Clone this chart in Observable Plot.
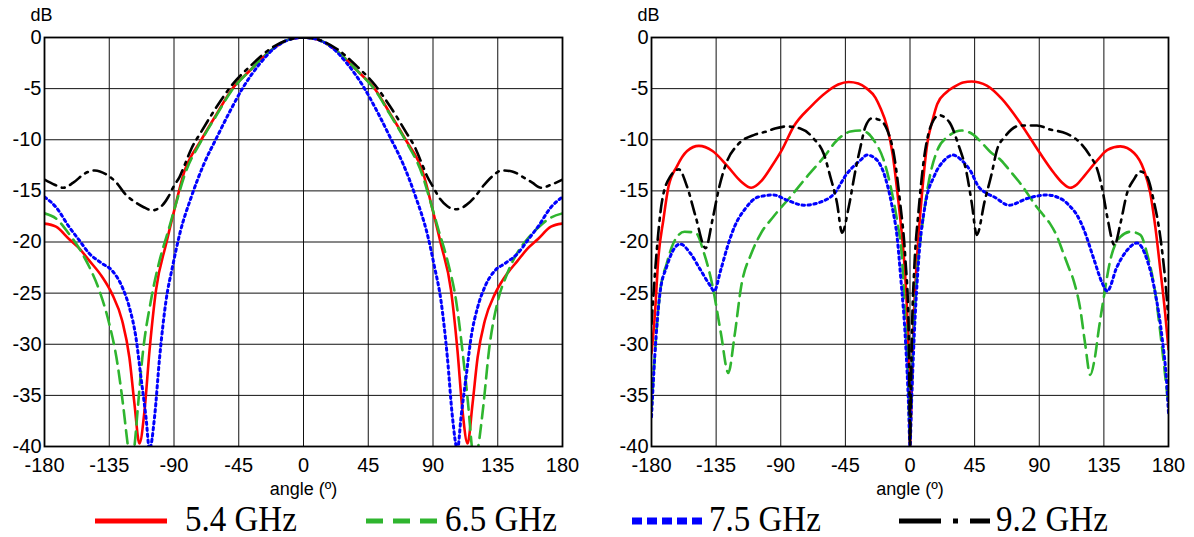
<!DOCTYPE html>
<html><head><meta charset="utf-8">
<script src="https://cdn.jsdelivr.net/npm/d3@7"></script>
<script src="https://cdn.jsdelivr.net/npm/@observablehq/plot@0.6"></script>
<style>
body{margin:0;background:#fff;width:1194px;height:537px;overflow:hidden;font-family:"Liberation Sans",Arial,sans-serif}
#charts{display:flex;height:500px}
#legend{position:relative;height:37px;font-family:"Liberation Serif","Times New Roman",serif;font-size:33px;color:#000}
#legend .sw{position:absolute;top:13px}
#legend .lb{position:absolute;top:1px;line-height:37px;white-space:nowrap;transform:scaleY(1.08)}
</style></head>
<body><div id="charts"></div><div id="legend"></div>
<script>
// ---- data ----
const seriesNames = ["5.4 GHz", "6.5 GHz", "7.5 GHz", "9.2 GHz"];
const seriesColors = ["#ff0000", "#2fb52f", "#0000ff", "#000000"];
const xTicks = [-180, -135, -90, -45, 0, 45, 90, 135, 180];
const yTicks = [0, -5, -10, -15, -20, -25, -30, -35, -40];

// left panel [angle, dB]
const left54 = [[-180,-18.2],[-172,-18.5],[-163,-19.7],[-156,-20.6],[-149,-21.8],[-140,-23.4],[-133,-25.1],[-126,-27.7],[-121,-31.3],[-117.5,-35.8],[-114,-39.7],[-110.5,-36.5],[-107,-30.6],[-102.5,-24.7],[-95.5,-20.2],[-90,-17.0],[-83,-13.2],[-71,-10.0],[-60,-7.4],[-50,-5.1],[-37,-3.2],[-23,-1.3],[-10,-0.2],[0,0],[10,-0.2],[23,-1.3],[37,-3.2],[50,-5.1],[60,-7.4],[71,-10.0],[83,-13.2],[90,-17.0],[95.5,-20.2],[102.5,-24.7],[107,-30.6],[110.5,-36.5],[114,-39.7],[117.5,-35.8],[121,-31.3],[126,-27.7],[133,-25.1],[140,-23.4],[149,-21.8],[156,-20.6],[163,-19.7],[172,-18.5],[180,-18.2]];
const left65 = [[-180,-17.2],[-172,-17.7],[-163,-19.2],[-156,-20.6],[-149,-22.4],[-142,-24.7],[-135,-28.0],[-130,-31.3],[-125.5,-35.8],[-122,-40],[-120,-42],[-117.5,-40],[-115,-36],[-112,-31.3],[-106,-25.7],[-100,-21.8],[-94,-18.9],[-88.5,-16.2],[-82.5,-13.4],[-71,-10.1],[-60,-7.5],[-50,-5.2],[-37,-3.2],[-23,-1.3],[-10,-0.2],[0,0],[10,-0.2],[23,-1.3],[37,-3.2],[50,-5.2],[60,-7.5],[71,-10.1],[82.5,-13.4],[88.5,-16.2],[94,-18.9],[100,-21.8],[106,-25.7],[111,-31.3],[114.5,-36],[117,-40],[119,-42],[121.5,-40],[125,-36],[129,-30.5],[135,-25.8],[141,-23.3],[148,-21.2],[155,-19.8],[163,-18.6],[172,-17.6],[180,-17.2]];
const left75 = [[-180,-15.6],[-172,-16.6],[-163,-18.5],[-156,-19.8],[-149,-21.1],[-140,-22.1],[-133,-22.8],[-126,-24.4],[-121,-26.4],[-116.5,-29.3],[-113,-33.2],[-109.5,-37.1],[-107,-40.3],[-103.5,-37.1],[-100,-31.3],[-95.5,-25.7],[-91,-22.4],[-86,-19.2],[-78,-15.6],[-69,-12.3],[-60,-9.7],[-50.7,-7.1],[-41.6,-4.8],[-30,-2.5],[-19,-0.9],[-7,-0.1],[0,0],[7,-0.1],[19,-0.9],[30,-2.5],[41.6,-4.8],[50.7,-7.1],[60,-9.7],[69,-12.3],[78,-15.6],[86,-19.2],[91,-22.4],[95.5,-25.7],[100,-31.3],[103.5,-37.1],[107,-40.3],[109.5,-37.1],[113,-33.2],[116.5,-29.3],[121,-26.4],[126,-24.4],[133,-22.8],[140,-22.1],[149,-21.1],[156,-19.8],[163,-18.5],[172,-16.6],[180,-15.6]];
const left92 = [[-180,-13.9],[-173,-14.4],[-167,-14.7],[-160,-14.2],[-152,-13.3],[-145,-13.0],[-137,-13.4],[-130,-14.2],[-124,-15.3],[-117,-16.1],[-111,-16.6],[-105,-16.9],[-98,-16.4],[-94,-15.6],[-90,-14.5],[-86,-13.6],[-83,-12.6],[-78,-10.9],[-71,-9.2],[-60,-6.7],[-50,-4.7],[-37,-2.8],[-23,-1.1],[-10,-0.2],[0,0],[10,-0.2],[23,-1.1],[37,-2.8],[50,-4.7],[60,-6.7],[71,-9.2],[78,-10.9],[83,-12.6],[86,-13.6],[90,-14.6],[95,-15.8],[100,-16.5],[106,-16.8],[113,-16.4],[119,-15.6],[125,-14.5],[131,-13.6],[138,-13.0],[145,-13.1],[152,-13.6],[159,-14.2],[165,-14.7],[172,-14.4],[180,-13.9]];

// right panel [angle, dB]
const right54 = [[-180,-30.9],[-177.6,-27.0],[-175.3,-21.7],[-171.7,-17.8],[-168.2,-14.6],[-162.3,-12.6],[-155.2,-11.1],[-147,-10.6],[-137.5,-11.1],[-127,-12.6],[-117.5,-14.1],[-110.5,-14.7],[-103.3,-14.0],[-96.3,-12.6],[-89.2,-11.0],[-81,-8.7],[-69.4,-6.8],[-57.8,-5.3],[-50,-4.6],[-42.7,-4.35],[-36,-4.5],[-30,-5.0],[-24,-5.9],[-20.6,-6.9],[-16,-8.7],[-12,-11.5],[-8.5,-15.5],[-5.5,-19.5],[-3.5,-23.0],[-2,-27],[-1,-32],[-0.3,-38],[0,-40],[0.5,-38],[1.2,-34.8],[2.4,-28.3],[4.8,-21.8],[8.4,-15.2],[12,-10.4],[15.5,-8.2],[19,-6.5],[25,-5.4],[31,-4.8],[37,-4.4],[43,-4.3],[48,-4.4],[53.5,-4.7],[64,-6.0],[77,-8.4],[90,-11.2],[100.5,-13.3],[106,-14.2],[111.5,-14.7],[116,-14.4],[121,-13.6],[130.5,-12.0],[137.5,-11.0],[146.5,-10.65],[156,-11.3],[162.7,-12.9],[167.3,-15.2],[170.8,-18.5],[174.3,-22.7],[177.7,-27.0],[180,-30.5]];
const right65 = [[-180,-36.5],[-177.6,-30.9],[-174.1,-25.0],[-169.4,-22.1],[-164.7,-20.1],[-157,-19.0],[-149.3,-19.1],[-143.4,-21.1],[-137.5,-24.3],[-131.7,-28.9],[-126.5,-32.8],[-122.2,-29.2],[-117.5,-24.3],[-110.4,-21.1],[-104,-19.2],[-95,-17.5],[-83.4,-15.6],[-71.7,-13.6],[-60,-11.7],[-50.8,-10.05],[-41.5,-9.2],[-34.5,-9.1],[-29,-9.4],[-25.2,-10.05],[-18.3,-12.0],[-12.4,-15.3],[-9,-17.9],[-5.5,-21.8],[-3.6,-26.7],[-1.3,-33.5],[0,-39],[1.3,-33.5],[3.4,-26.5],[5.5,-22],[8.4,-18.5],[13.2,-14.0],[19.1,-11.0],[26.3,-9.7],[36,-9.1],[44,-9.5],[50,-10.3],[56,-11.2],[63.3,-12.0],[70,-13.1],[77,-14.3],[88.4,-16.6],[93,-17.4],[97.5,-18.2],[102.5,-19.5],[106,-20.8],[110,-22.3],[114,-23.8],[118.5,-26.5],[122,-30.0],[125.5,-33.0],[128.5,-31.5],[131.5,-28.5],[134.5,-25.8],[139.6,-21.7],[146.5,-19.5],[153.5,-19.0],[160.4,-19.3],[165,-21.1],[170.8,-25.0],[175.4,-30.2],[180,-36.1]];
const right75 = [[-180,-37.1],[-177.6,-30.9],[-174.1,-25.0],[-169.4,-22.4],[-164,-20.6],[-160,-20.2],[-153,-21.1],[-146,-22.7],[-139,-24.3],[-136.4,-24.8],[-131.7,-22.7],[-127,-20.4],[-122.2,-18.5],[-115,-16.8],[-105.7,-15.6],[-95,-15.4],[-85.7,-15.9],[-74,-16.4],[-62.4,-16.1],[-53,-15.3],[-43.8,-13.3],[-34.5,-12.0],[-29.9,-11.5],[-22.9,-12.0],[-17,-13.8],[-12.5,-16.5],[-9,-19.5],[-6.5,-23.4],[-3,-30],[-1,-36],[0,-40],[1,-36],[3,-29],[6,-21.8],[10.8,-16.2],[16.7,-13.6],[23.9,-12.0],[29.9,-11.5],[35.9,-12.0],[41.9,-13.0],[47.8,-14.6],[53,-15.2],[58.7,-15.6],[69,-16.4],[81.5,-15.75],[95.2,-15.4],[106.6,-15.9],[112,-16.6],[116,-17.3],[121.1,-18.8],[128.1,-21.7],[133.8,-24.0],[137.3,-24.8],[144.2,-22.4],[151.2,-20.8],[158.1,-20.1],[165,-21.7],[170.8,-25.0],[175.4,-29.2],[178.9,-34.1],[180,-36.7]];
const right92 = [[-180,-28],[-176.5,-21.1],[-172.9,-16.2],[-167,-13.6],[-161,-12.9],[-155.2,-14.6],[-149.3,-17.5],[-142.3,-20.6],[-137.5,-17.8],[-132.8,-14.6],[-128,-12.3],[-120,-10.5],[-108,-9.5],[-100,-9.2],[-94,-8.9],[-86,-8.7],[-76.4,-8.9],[-67,-9.9],[-60,-11.4],[-55.5,-13.6],[-50.8,-16.2],[-47.3,-19.1],[-42.7,-16.6],[-38,-13.0],[-34.5,-10.7],[-31,-8.7],[-26.4,-7.9],[-20.6,-8.1],[-16,-9.0],[-11,-11.6],[-7,-16],[-3.3,-21.5],[-1,-28],[-0.3,-36],[0,-40],[0.5,-36],[1.5,-28],[3,-22.5],[6,-16.9],[9.6,-12.0],[14.4,-8.7],[20.3,-7.6],[27.5,-8.3],[33.5,-10.4],[39.5,-13.3],[43,-16.2],[46.5,-19.3],[52,-16.0],[56.4,-13.6],[61,-10.8],[65.5,-9.8],[77,-8.6],[88.4,-8.6],[97.5,-9.0],[109,-9.4],[118.5,-10.3],[125.5,-11.6],[130.4,-12.9],[134,-14.9],[137.3,-17.5],[142.4,-20.3],[146.5,-18.2],[151.2,-15.2],[155.8,-13.9],[160.4,-13.1],[165,-13.6],[169.6,-15.9],[174.3,-19.5],[177.7,-23.7],[180,-27.6]];

// ---- styles ----
const plotDash = [null, "13,7", "2.5,3.5", "13,6,3,6"];
const plotWidth = [2.6, 2.6, 3, 2.6];
const legendDash = [null, "17,10", "10,5", "42,12,5,12,20"];

function panel(series, width, ml, mr) {
  const marks = [
    Plot.gridX(xTicks, {stroke: "#111", strokeOpacity: 1, strokeWidth: 1}),
    Plot.gridY(yTicks, {stroke: "#111", strokeOpacity: 1, strokeWidth: 1})
  ];
  series.forEach((s, i) => {
    marks.push(Plot.line(s, {x: d => d[0], y: d => d[1], stroke: seriesColors[i],
      strokeWidth: plotWidth[i], strokeDasharray: plotDash[i], curve: "monotone-x", clip: true}));
  });
  marks.push(
    Plot.frame({stroke: "#000", strokeWidth: 1.8}),
    Plot.axisX(xTicks, {tickSize: 0, tickPadding: 11, label: null, tickFormat: d => String(d)}),
    Plot.axisY(yTicks, {tickSize: 0, tickPadding: 3, label: null, tickFormat: d => String(d)}),
    Plot.text(["dB"], {text: d => d, frameAnchor: "top-left", textAnchor: "middle", lineAnchor: "middle", dx: -3, dy: -22, fontSize: 18}),
    Plot.text(["angle (º)"], {text: d => d, frameAnchor: "bottom", textAnchor: "middle", lineAnchor: "middle", dy: 43, fontSize: 18})
  );
  return Plot.plot({
    width, height: 500, marginLeft: ml, marginRight: mr, marginTop: 37, marginBottom: 54,
    x: {domain: [-180, 180]}, y: {domain: [-40, 0]},
    style: {fontFamily: "'Liberation Sans', Arial, sans-serif", fontSize: "20px", color: "#000", background: "#fff", overflow: "visible"},
    marks
  });
}

const charts = document.getElementById("charts");
charts.appendChild(panel([left54, left65, left75, left92], 597, 44, 35));
charts.appendChild(panel([right54, right65, right75, right92], 597, 54, 26));

// legend
const legendSwatchX = [95, 366, 632, 899];
const legendSwatchW = [72, 76, 73, 91];
const legendTextX = [185, 445, 709, 996];
const legend = document.getElementById("legend");
seriesNames.forEach((name, i) => {
  const svg = d3.create("svg").attr("class", "sw")
    .attr("width", legendSwatchW[i]).attr("height", 16)
    .style("left", legendSwatchX[i] + "px");
  svg.append("line").attr("x1", 0).attr("x2", legendSwatchW[i]).attr("y1", 8).attr("y2", 8)
    .attr("stroke", seriesColors[i]).attr("stroke-width", i === 2 ? 7 : 5)
    .attr("stroke-dasharray", legendDash[i]);
  legend.appendChild(svg.node());
  const t = document.createElement("div");
  t.className = "lb"; t.textContent = name; t.style.left = legendTextX[i] + "px";
  legend.appendChild(t);
});
</script></body></html>
